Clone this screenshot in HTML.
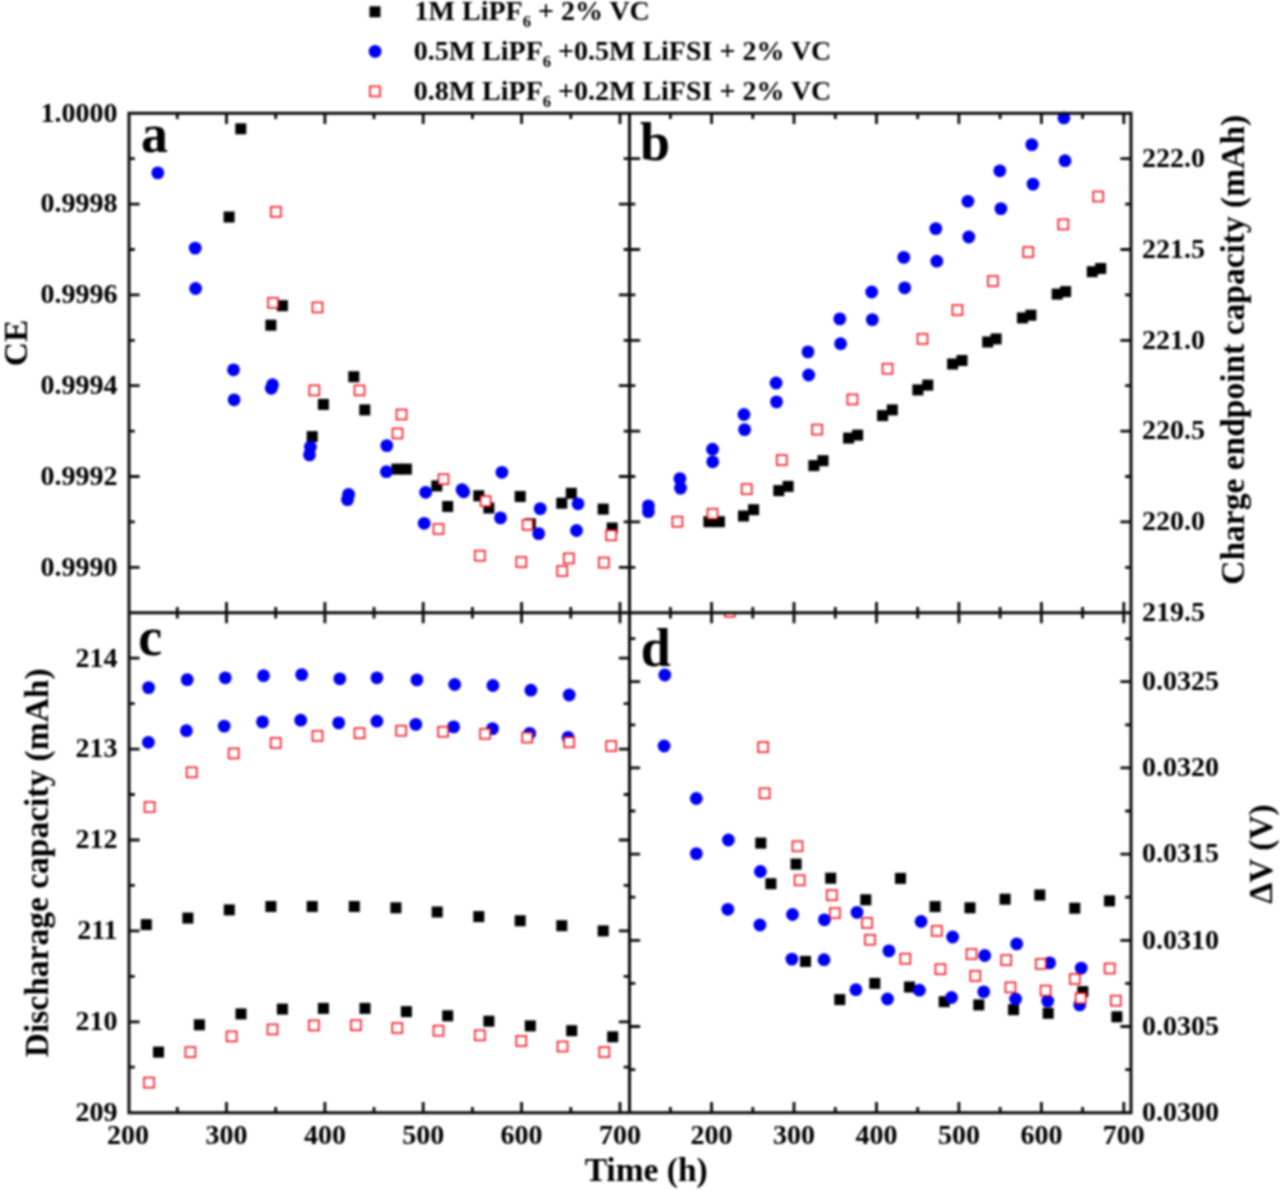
<!DOCTYPE html>
<html lang="en"><head><meta charset="utf-8"><title>Figure</title>
<style>html,body{margin:0;padding:0;background:#fff}svg{display:block;filter:blur(0.9px)}text{font-family:"Liberation Serif",serif;font-weight:bold;fill:#000}.tk{font-size:28px}.ti{font-size:33.5px}.pl{font-size:54px;fill:#000}.lg{font-size:28px}</style></head><body>
<svg width="1280" height="1190" viewBox="0 0 1280 1190">
<rect width="1280" height="1190" fill="#fff"/>
<g fill="#000">
<rect x="235.3" y="123.3" width="11" height="11"/>
<rect x="223.6" y="211.5" width="11" height="11"/>
<rect x="276.9" y="300.2" width="11" height="11"/>
<rect x="265.4" y="319.7" width="11" height="11"/>
<rect x="348.3" y="371.2" width="11" height="11"/>
<rect x="317.9" y="398.9" width="11" height="11"/>
<rect x="359.3" y="404.4" width="11" height="11"/>
<rect x="306.7" y="431.1" width="11" height="11"/>
<rect x="391.4" y="463.6" width="11" height="11"/>
<rect x="400.9" y="463.6" width="11" height="11"/>
<rect x="431.3" y="480.4" width="11" height="11"/>
<rect x="442.2" y="501.0" width="11" height="11"/>
<rect x="473.3" y="490.3" width="11" height="11"/>
<rect x="483.4" y="502.5" width="11" height="11"/>
<rect x="514.7" y="491.0" width="11" height="11"/>
<rect x="524.8" y="518.3" width="11" height="11"/>
<rect x="556.3" y="497.7" width="11" height="11"/>
<rect x="565.8" y="487.8" width="11" height="11"/>
<rect x="597.7" y="503.6" width="11" height="11"/>
<rect x="606.7" y="522.5" width="11" height="11"/>
<rect x="703.4" y="516.2" width="11" height="11"/>
<rect x="713.9" y="516.2" width="11" height="11"/>
<rect x="738.0" y="510.5" width="11" height="11"/>
<rect x="748.1" y="504.2" width="11" height="11"/>
<rect x="773.3" y="485.1" width="11" height="11"/>
<rect x="782.6" y="480.9" width="11" height="11"/>
<rect x="808.4" y="460.1" width="11" height="11"/>
<rect x="817.5" y="455.2" width="11" height="11"/>
<rect x="843.1" y="432.6" width="11" height="11"/>
<rect x="852.1" y="429.6" width="11" height="11"/>
<rect x="1086.8" y="266.2" width="11" height="11"/>
<rect x="1095.2" y="263.0" width="11" height="11"/>
<rect x="1051.7" y="288.6" width="11" height="11"/>
<rect x="1060.1" y="286.1" width="11" height="11"/>
<rect x="1017.0" y="312.4" width="11" height="11"/>
<rect x="1025.4" y="309.7" width="11" height="11"/>
<rect x="982.2" y="336.5" width="11" height="11"/>
<rect x="990.6" y="333.4" width="11" height="11"/>
<rect x="947.1" y="358.5" width="11" height="11"/>
<rect x="956.5" y="355.0" width="11" height="11"/>
<rect x="912.4" y="384.4" width="11" height="11"/>
<rect x="922.3" y="379.6" width="11" height="11"/>
<rect x="877.1" y="410.1" width="11" height="11"/>
<rect x="886.8" y="404.4" width="11" height="11"/>
<rect x="140.8" y="919.1" width="11" height="11"/>
<rect x="182.4" y="912.6" width="11" height="11"/>
<rect x="223.8" y="904.4" width="11" height="11"/>
<rect x="265.4" y="901.0" width="11" height="11"/>
<rect x="306.7" y="901.0" width="11" height="11"/>
<rect x="348.8" y="901.0" width="11" height="11"/>
<rect x="153.0" y="1046.6" width="11" height="11"/>
<rect x="193.9" y="1019.3" width="11" height="11"/>
<rect x="235.5" y="1008.4" width="11" height="11"/>
<rect x="276.9" y="1003.6" width="11" height="11"/>
<rect x="317.9" y="1002.9" width="11" height="11"/>
<rect x="359.5" y="1002.9" width="11" height="11"/>
<rect x="390.4" y="902.3" width="11" height="11"/>
<rect x="431.7" y="906.5" width="11" height="11"/>
<rect x="473.3" y="911.1" width="11" height="11"/>
<rect x="514.7" y="915.3" width="11" height="11"/>
<rect x="556.3" y="920.2" width="11" height="11"/>
<rect x="597.7" y="925.4" width="11" height="11"/>
<rect x="400.9" y="1006.1" width="11" height="11"/>
<rect x="442.2" y="1010.3" width="11" height="11"/>
<rect x="483.4" y="1015.7" width="11" height="11"/>
<rect x="524.8" y="1020.4" width="11" height="11"/>
<rect x="566.2" y="1025.2" width="11" height="11"/>
<rect x="607.2" y="1031.3" width="11" height="11"/>
<rect x="755.3" y="837.6" width="11" height="11"/>
<rect x="790.6" y="858.6" width="11" height="11"/>
<rect x="765.4" y="878.2" width="11" height="11"/>
<rect x="825.2" y="872.7" width="11" height="11"/>
<rect x="860.3" y="894.3" width="11" height="11"/>
<rect x="800.0" y="955.9" width="11" height="11"/>
<rect x="834.3" y="994.1" width="11" height="11"/>
<rect x="869.3" y="977.9" width="11" height="11"/>
<rect x="895.0" y="872.9" width="11" height="11"/>
<rect x="929.6" y="901.1" width="11" height="11"/>
<rect x="964.5" y="902.3" width="11" height="11"/>
<rect x="999.6" y="893.7" width="11" height="11"/>
<rect x="1034.3" y="889.5" width="11" height="11"/>
<rect x="1069.3" y="902.7" width="11" height="11"/>
<rect x="1104.0" y="895.4" width="11" height="11"/>
<rect x="904.0" y="981.5" width="11" height="11"/>
<rect x="938.7" y="996.2" width="11" height="11"/>
<rect x="973.3" y="999.4" width="11" height="11"/>
<rect x="1008.0" y="1004.2" width="11" height="11"/>
<rect x="1042.7" y="1007.8" width="11" height="11"/>
<rect x="1077.3" y="986.1" width="11" height="11"/>
<rect x="1111.4" y="1011.3" width="11" height="11"/>
</g>
<g fill="#0000f5">
<circle cx="157.8" cy="172.9" r="6.4"/>
<circle cx="195.2" cy="248.1" r="6.4"/>
<circle cx="195.6" cy="288.5" r="6.4"/>
<circle cx="233.5" cy="369.8" r="6.4"/>
<circle cx="234.1" cy="399.8" r="6.4"/>
<circle cx="272.5" cy="384.7" r="6.4"/>
<circle cx="271.3" cy="388.3" r="6.4"/>
<circle cx="310.4" cy="447.1" r="6.4"/>
<circle cx="309.5" cy="454.9" r="6.4"/>
<circle cx="348.6" cy="494.4" r="6.4"/>
<circle cx="347.5" cy="499.6" r="6.4"/>
<circle cx="386.8" cy="445.6" r="6.4"/>
<circle cx="386.4" cy="471.7" r="6.4"/>
<circle cx="425.7" cy="492.3" r="6.4"/>
<circle cx="424.2" cy="523.3" r="6.4"/>
<circle cx="462.0" cy="489.7" r="6.4"/>
<circle cx="463.7" cy="491.8" r="6.4"/>
<circle cx="501.9" cy="472.3" r="6.4"/>
<circle cx="500.5" cy="517.9" r="6.4"/>
<circle cx="540.2" cy="508.6" r="6.4"/>
<circle cx="538.7" cy="533.6" r="6.4"/>
<circle cx="578.0" cy="503.8" r="6.4"/>
<circle cx="576.5" cy="530.5" r="6.4"/>
<circle cx="648.4" cy="505.9" r="6.4"/>
<circle cx="648.4" cy="511.6" r="6.4"/>
<circle cx="679.9" cy="478.6" r="6.4"/>
<circle cx="680.5" cy="488.1" r="6.4"/>
<circle cx="712.5" cy="449.2" r="6.4"/>
<circle cx="712.7" cy="461.8" r="6.4"/>
<circle cx="744.0" cy="414.5" r="6.4"/>
<circle cx="744.6" cy="429.6" r="6.4"/>
<circle cx="776.1" cy="383.0" r="6.4"/>
<circle cx="776.5" cy="401.9" r="6.4"/>
<circle cx="808.7" cy="375.0" r="6.4"/>
<circle cx="1063.9" cy="117.9" r="6.4"/>
<circle cx="1031.8" cy="144.6" r="6.4"/>
<circle cx="1065.0" cy="160.7" r="6.4"/>
<circle cx="999.8" cy="170.8" r="6.4"/>
<circle cx="1033.0" cy="184.1" r="6.4"/>
<circle cx="967.9" cy="201.3" r="6.4"/>
<circle cx="1000.9" cy="208.6" r="6.4"/>
<circle cx="935.8" cy="228.6" r="6.4"/>
<circle cx="968.8" cy="237.0" r="6.4"/>
<circle cx="903.8" cy="257.4" r="6.4"/>
<circle cx="936.8" cy="261.2" r="6.4"/>
<circle cx="904.7" cy="287.8" r="6.4"/>
<circle cx="808.0" cy="351.9" r="6.4"/>
<circle cx="839.8" cy="318.9" r="6.4"/>
<circle cx="840.6" cy="343.7" r="6.4"/>
<circle cx="871.7" cy="292.0" r="6.4"/>
<circle cx="872.3" cy="319.6" r="6.4"/>
<circle cx="148.6" cy="687.6" r="6.4"/>
<circle cx="187.2" cy="679.6" r="6.4"/>
<circle cx="225.3" cy="677.8" r="6.4"/>
<circle cx="263.5" cy="675.7" r="6.4"/>
<circle cx="301.7" cy="674.6" r="6.4"/>
<circle cx="339.8" cy="678.8" r="6.4"/>
<circle cx="148.4" cy="742.3" r="6.4"/>
<circle cx="186.4" cy="730.7" r="6.4"/>
<circle cx="224.2" cy="726.1" r="6.4"/>
<circle cx="262.5" cy="721.9" r="6.4"/>
<circle cx="300.7" cy="720.2" r="6.4"/>
<circle cx="338.7" cy="722.9" r="6.4"/>
<circle cx="376.9" cy="677.8" r="6.4"/>
<circle cx="416.9" cy="679.9" r="6.4"/>
<circle cx="454.7" cy="684.5" r="6.4"/>
<circle cx="492.9" cy="685.5" r="6.4"/>
<circle cx="530.9" cy="690.2" r="6.4"/>
<circle cx="569.2" cy="695.0" r="6.4"/>
<circle cx="376.9" cy="721.2" r="6.4"/>
<circle cx="415.8" cy="724.4" r="6.4"/>
<circle cx="453.6" cy="726.9" r="6.4"/>
<circle cx="492.5" cy="728.6" r="6.4"/>
<circle cx="529.7" cy="733.4" r="6.4"/>
<circle cx="568.1" cy="737.4" r="6.4"/>
<circle cx="664.8" cy="675.0" r="6.4"/>
<circle cx="664.1" cy="746.0" r="6.4"/>
<circle cx="696.3" cy="798.5" r="6.4"/>
<circle cx="696.3" cy="853.6" r="6.4"/>
<circle cx="728.4" cy="840.0" r="6.4"/>
<circle cx="760.4" cy="871.5" r="6.4"/>
<circle cx="727.8" cy="909.3" r="6.4"/>
<circle cx="759.9" cy="925.0" r="6.4"/>
<circle cx="792.5" cy="914.5" r="6.4"/>
<circle cx="824.4" cy="919.8" r="6.4"/>
<circle cx="857.0" cy="912.4" r="6.4"/>
<circle cx="791.9" cy="959.1" r="6.4"/>
<circle cx="824.0" cy="959.7" r="6.4"/>
<circle cx="855.9" cy="989.7" r="6.4"/>
<circle cx="921.1" cy="921.5" r="6.4"/>
<circle cx="952.6" cy="937.0" r="6.4"/>
<circle cx="888.9" cy="950.9" r="6.4"/>
<circle cx="984.7" cy="955.5" r="6.4"/>
<circle cx="1016.7" cy="943.9" r="6.4"/>
<circle cx="1049.6" cy="962.9" r="6.4"/>
<circle cx="1081.2" cy="968.1" r="6.4"/>
<circle cx="887.5" cy="999.0" r="6.4"/>
<circle cx="919.4" cy="990.2" r="6.4"/>
<circle cx="951.5" cy="997.5" r="6.4"/>
<circle cx="983.7" cy="991.8" r="6.4"/>
<circle cx="1015.6" cy="999.0" r="6.4"/>
<circle cx="1047.7" cy="1001.1" r="6.4"/>
<circle cx="1079.7" cy="1004.9" r="6.4"/>
</g>
<g fill="#fff" stroke="#f01420" stroke-width="1.6">
<rect x="270.9" y="206.8" width="10" height="10"/>
<rect x="268.0" y="297.8" width="10" height="10"/>
<rect x="312.5" y="302.4" width="10" height="10"/>
<rect x="309.3" y="385.4" width="10" height="10"/>
<rect x="354.5" y="385.4" width="10" height="10"/>
<rect x="396.5" y="409.5" width="10" height="10"/>
<rect x="392.5" y="428.4" width="10" height="10"/>
<rect x="438.5" y="474.2" width="10" height="10"/>
<rect x="433.5" y="524.0" width="10" height="10"/>
<rect x="480.6" y="496.1" width="10" height="10"/>
<rect x="474.9" y="550.7" width="10" height="10"/>
<rect x="522.6" y="519.8" width="10" height="10"/>
<rect x="516.3" y="557.0" width="10" height="10"/>
<rect x="563.8" y="553.4" width="10" height="10"/>
<rect x="557.2" y="566.0" width="10" height="10"/>
<rect x="598.8" y="557.6" width="10" height="10"/>
<rect x="606.2" y="530.3" width="10" height="10"/>
<rect x="672.4" y="516.7" width="10" height="10"/>
<rect x="707.5" y="508.7" width="10" height="10"/>
<rect x="741.7" y="484.1" width="10" height="10"/>
<rect x="776.8" y="455.1" width="10" height="10"/>
<rect x="812.1" y="424.6" width="10" height="10"/>
<rect x="847.4" y="394.4" width="10" height="10"/>
<rect x="1093.2" y="191.5" width="10" height="10"/>
<rect x="1058.3" y="219.4" width="10" height="10"/>
<rect x="1023.2" y="247.1" width="10" height="10"/>
<rect x="987.9" y="276.1" width="10" height="10"/>
<rect x="952.4" y="305.1" width="10" height="10"/>
<rect x="917.5" y="333.9" width="10" height="10"/>
<rect x="882.5" y="363.7" width="10" height="10"/>
<rect x="144.6" y="802.0" width="10" height="10"/>
<rect x="186.7" y="767.3" width="10" height="10"/>
<rect x="228.7" y="748.4" width="10" height="10"/>
<rect x="270.7" y="737.9" width="10" height="10"/>
<rect x="312.5" y="730.9" width="10" height="10"/>
<rect x="354.5" y="728.2" width="10" height="10"/>
<rect x="396.1" y="725.7" width="10" height="10"/>
<rect x="438.1" y="726.7" width="10" height="10"/>
<rect x="480.1" y="728.8" width="10" height="10"/>
<rect x="522.2" y="732.6" width="10" height="10"/>
<rect x="564.2" y="737.3" width="10" height="10"/>
<rect x="606.2" y="741.0" width="10" height="10"/>
<rect x="144.0" y="1077.6" width="10" height="10"/>
<rect x="185.4" y="1047.1" width="10" height="10"/>
<rect x="226.6" y="1031.4" width="10" height="10"/>
<rect x="267.5" y="1024.4" width="10" height="10"/>
<rect x="308.9" y="1020.4" width="10" height="10"/>
<rect x="350.9" y="1020.2" width="10" height="10"/>
<rect x="392.3" y="1023.0" width="10" height="10"/>
<rect x="433.5" y="1025.7" width="10" height="10"/>
<rect x="474.9" y="1030.3" width="10" height="10"/>
<rect x="516.3" y="1036.0" width="10" height="10"/>
<rect x="557.5" y="1041.5" width="10" height="10"/>
<rect x="599.3" y="1047.1" width="10" height="10"/>
<rect x="758.1" y="742.1" width="10" height="10"/>
<rect x="759.6" y="788.3" width="10" height="10"/>
<rect x="792.5" y="841.3" width="10" height="10"/>
<rect x="794.6" y="875.3" width="10" height="10"/>
<rect x="826.8" y="890.2" width="10" height="10"/>
<rect x="829.9" y="908.1" width="10" height="10"/>
<rect x="862.1" y="917.9" width="10" height="10"/>
<rect x="865.0" y="934.7" width="10" height="10"/>
<rect x="931.8" y="925.9" width="10" height="10"/>
<rect x="900.3" y="953.7" width="10" height="10"/>
<rect x="966.5" y="949.0" width="10" height="10"/>
<rect x="935.4" y="964.2" width="10" height="10"/>
<rect x="1001.2" y="955.1" width="10" height="10"/>
<rect x="970.3" y="970.9" width="10" height="10"/>
<rect x="1035.8" y="958.9" width="10" height="10"/>
<rect x="1005.4" y="982.4" width="10" height="10"/>
<rect x="1069.8" y="974.0" width="10" height="10"/>
<rect x="1040.6" y="985.6" width="10" height="10"/>
<rect x="1104.7" y="963.5" width="10" height="10"/>
<rect x="1075.7" y="993.2" width="10" height="10"/>
<rect x="1110.8" y="995.7" width="10" height="10"/>
</g>
<clipPath id="cl"><rect x="700" y="612.7" width="60" height="10"/></clipPath>
<rect x="724.7" y="606.8" width="10" height="10" fill="#fff" stroke="#f01420" stroke-width="1.6" clip-path="url(#cl)"/>
<path d="M177.3 113.3V119.1M177.3 606.9V618.5M177.3 1106.9V1112.7M226.5 113.3V123.9M226.5 602.1V623.3M226.5 1102.1V1112.7M275.7 113.3V119.1M275.7 606.9V618.5M275.7 1106.9V1112.7M324.9 113.3V123.9M324.9 602.1V623.3M324.9 1102.1V1112.7M374.0 113.3V119.1M374.0 606.9V618.5M374.0 1106.9V1112.7M423.2 113.3V123.9M423.2 602.1V623.3M423.2 1102.1V1112.7M472.4 113.3V119.1M472.4 606.9V618.5M472.4 1106.9V1112.7M521.6 113.3V123.9M521.6 602.1V623.3M521.6 1102.1V1112.7M570.8 113.3V119.1M570.8 606.9V618.5M570.8 1106.9V1112.7M620.0 113.3V123.9M620.0 602.1V623.3M620.0 1102.1V1112.7M670.4 113.3V119.1M670.4 606.9V618.5M670.4 1106.9V1112.7M711.6 113.3V123.9M711.6 602.1V623.3M711.6 1102.1V1112.7M752.8 113.3V119.1M752.8 606.9V618.5M752.8 1106.9V1112.7M794.0 113.3V123.9M794.0 602.1V623.3M794.0 1102.1V1112.7M835.3 113.3V119.1M835.3 606.9V618.5M835.3 1106.9V1112.7M876.5 113.3V123.9M876.5 602.1V623.3M876.5 1102.1V1112.7M917.7 113.3V119.1M917.7 606.9V618.5M917.7 1106.9V1112.7M958.9 113.3V123.9M958.9 602.1V623.3M958.9 1102.1V1112.7M1000.1 113.3V119.1M1000.1 606.9V618.5M1000.1 1106.9V1112.7M1041.4 113.3V123.9M1041.4 602.1V623.3M1041.4 1102.1V1112.7M1082.6 113.3V119.1M1082.6 606.9V618.5M1082.6 1106.9V1112.7M1123.8 113.3V123.9M1123.8 602.1V623.3M1123.8 1102.1V1112.7M129.0 158.7H134.8M623.7 158.7H629.5M629.5 158.7H640.1M1120.4 158.7H1131.0M129.0 204.1H139.6M618.9 204.1H629.5M629.5 204.1H635.3M1125.2 204.1H1131.0M129.0 249.5H134.8M623.7 249.5H629.5M629.5 249.5H640.1M1120.4 249.5H1131.0M129.0 294.9H139.6M618.9 294.9H629.5M629.5 294.9H635.3M1125.2 294.9H1131.0M129.0 340.3H134.8M623.7 340.3H629.5M629.5 340.3H640.1M1120.4 340.3H1131.0M129.0 385.7H139.6M618.9 385.7H629.5M629.5 385.7H635.3M1125.2 385.7H1131.0M129.0 431.1H134.8M623.7 431.1H629.5M629.5 431.1H640.1M1120.4 431.1H1131.0M129.0 476.5H139.6M618.9 476.5H629.5M629.5 476.5H635.3M1125.2 476.5H1131.0M129.0 521.9H134.8M623.7 521.9H629.5M629.5 521.9H640.1M1120.4 521.9H1131.0M129.0 567.3H139.6M618.9 567.3H629.5M629.5 567.3H635.3M1125.2 567.3H1131.0M129.0 658.2H139.6M618.9 658.2H629.5M129.0 703.6H134.8M623.7 703.6H629.5M129.0 749.1H139.6M618.9 749.1H629.5M129.0 794.5H134.8M623.7 794.5H629.5M129.0 840.0H139.6M618.9 840.0H629.5M129.0 885.4H134.8M623.7 885.4H629.5M129.0 930.9H139.6M618.9 930.9H629.5M129.0 976.3H134.8M623.7 976.3H629.5M129.0 1021.8H139.6M618.9 1021.8H629.5M129.0 1067.2H134.8M623.7 1067.2H629.5M629.5 1069.6H635.3M1125.2 1069.6H1131.0M629.5 1026.5H640.1M1120.4 1026.5H1131.0M629.5 983.4H635.3M1125.2 983.4H1131.0M629.5 940.3H640.1M1120.4 940.3H1131.0M629.5 897.2H635.3M1125.2 897.2H1131.0M629.5 854.1H640.1M1120.4 854.1H1131.0M629.5 811.0H635.3M1125.2 811.0H1131.0M629.5 767.9H640.1M1120.4 767.9H1131.0M629.5 724.8H635.3M1125.2 724.8H1131.0M629.5 681.7H640.1M1120.4 681.7H1131.0M629.5 638.6H635.3M1125.2 638.6H1131.0" stroke="#0a0a0a" stroke-width="2.8" fill="none"/>
<path d="M129.0 113.3H1131.0V1112.7H129.0Z M629.5 113.3V1112.7 M129.0 612.7H1131.0" stroke="#0a0a0a" stroke-width="3" fill="none" stroke-linejoin="miter"/>
<g class="tk">
<text x="117.6" y="121.6" text-anchor="end">1.0000</text>
<text x="117.6" y="212.4" text-anchor="end">0.9998</text>
<text x="117.6" y="303.2" text-anchor="end">0.9996</text>
<text x="117.6" y="394.0" text-anchor="end">0.9994</text>
<text x="117.6" y="484.8" text-anchor="end">0.9992</text>
<text x="117.6" y="575.6" text-anchor="end">0.9990</text>
<text x="117.6" y="666.5" text-anchor="end">214</text>
<text x="117.6" y="757.4" text-anchor="end">213</text>
<text x="117.6" y="848.3" text-anchor="end">212</text>
<text x="117.6" y="939.2" text-anchor="end">211</text>
<text x="117.6" y="1030.1" text-anchor="end">210</text>
<text x="117.6" y="1121.0" text-anchor="end">209</text>
<text x="1142" y="167.0">222.0</text>
<text x="1142" y="257.8">221.5</text>
<text x="1142" y="348.6">221.0</text>
<text x="1142" y="439.4">220.5</text>
<text x="1142" y="530.2">220.0</text>
<text x="1142" y="621.0">219.5</text>
<text x="1142" y="690.0">0.0325</text>
<text x="1142" y="776.2">0.0320</text>
<text x="1142" y="862.4">0.0315</text>
<text x="1142" y="948.6">0.0310</text>
<text x="1142" y="1034.8">0.0305</text>
<text x="1142" y="1121.0">0.0300</text>
<text x="128.1" y="1144.3" text-anchor="middle">200</text>
<text x="711.6" y="1144.3" text-anchor="middle">200</text>
<text x="226.5" y="1144.3" text-anchor="middle">300</text>
<text x="794.0" y="1144.3" text-anchor="middle">300</text>
<text x="324.9" y="1144.3" text-anchor="middle">400</text>
<text x="876.5" y="1144.3" text-anchor="middle">400</text>
<text x="423.2" y="1144.3" text-anchor="middle">500</text>
<text x="958.9" y="1144.3" text-anchor="middle">500</text>
<text x="521.6" y="1144.3" text-anchor="middle">600</text>
<text x="1041.4" y="1144.3" text-anchor="middle">600</text>
<text x="620.0" y="1144.3" text-anchor="middle">700</text>
<text x="1123.8" y="1144.3" text-anchor="middle">700</text>
</g>
<g class="ti" text-anchor="middle">
<text transform="translate(27 343) rotate(-90)">CE</text>
<text transform="translate(48.4 862.8) rotate(-90)">Discharage capacity (mAh)</text>
<text transform="translate(1243.5 349.8) rotate(-90)">Charge endpoint capacity (mAh)</text>
<text transform="translate(1272 854) rotate(-90)">ΔV (V)</text>
<text x="646.2" y="1181">Time (h)</text>
</g>
<g class="pl">
<text x="141" y="151.8">a</text>
<text x="640" y="159.8">b</text>
<text x="138.2" y="655">c</text>
<text x="640.8" y="665.5">d</text>
</g>
<rect x="369.5" y="6.3" width="11" height="11" fill="#000"/>
<circle cx="375.1" cy="51.4" r="6.4" fill="#0000f5"/>
<rect x="370" y="86.4" width="10" height="10" fill="#fff" stroke="#f01420" stroke-width="1.6"/>
<g class="lg">
<text x="414.6" y="20.1">1M LiPF<tspan font-size="16.5" dy="6.7">6</tspan><tspan dy="-6.7"> + 2% VC</tspan></text>
<text x="413.7" y="60.3">0.5M LiPF<tspan font-size="16.5" dy="6.7">6</tspan><tspan dy="-6.7"> +0.5M LiFSI + 2% VC</tspan></text>
<text x="413.7" y="100.2">0.8M LiPF<tspan font-size="16.5" dy="6.7">6</tspan><tspan dy="-6.7"> +0.2M LiFSI + 2% VC</tspan></text>
</g>
</svg></body></html>
